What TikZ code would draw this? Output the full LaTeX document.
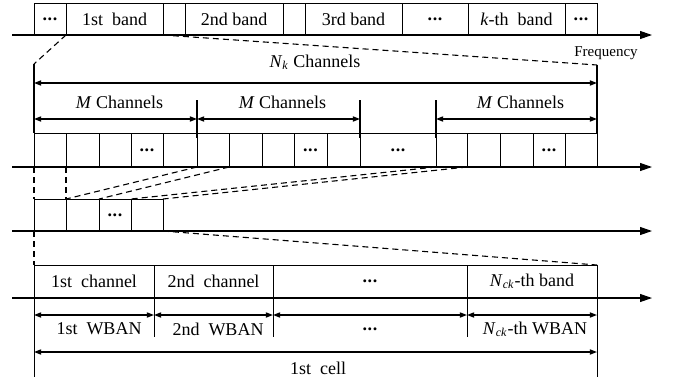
\documentclass[tikz,border=0pt]{standalone}
\usepackage{fontspec}
\setmainfont{Liberation Serif}
\usetikzlibrary{arrows.meta, calc}

\newcommand{\Nck}{\textit{N}\textsubscript{\textit{ck}}}
\newcommand{\hdots}{\textbf{.\kern0.3pt.\kern0.3pt.}}

\tikzset{
    axis/.style={line width=0.55pt, -{Triangle[length=6pt, width=4pt]}},
    dim/.style={line width=0.6pt, {Triangle[length=3.6pt, width=2.6pt]}-{Triangle[length=3.6pt, width=2.6pt]}},
    cellline/.style={line width=0.5pt},
    sepline/.style={line width=1pt},
    guide/.style={line width=0.55pt, dash pattern=on 3pt off 2pt},
    lbl/.style={font=\fontsize{9}{10}\selectfont, inner sep=0pt}
}

\begin{document}
\begin{tikzpicture}[x=0.5pt, y=-0.5pt]
                    \useasboundingbox (0, 0) rectangle (674, 381);

                    \draw[axis] (12, 35) -- (652, 35);
                    \draw[axis] (12, 167) -- (652, 167);
                    \draw[axis] (12, 231) -- (652, 231);
                    \draw[axis] (12, 298) -- (652, 298);

                    \draw[cellline] (34, 3) rectangle (597, 35);
                    \foreach \x in {66, 163, 185, 283, 305, 402, 468, 565} {
                        \draw[cellline] (\x, 3) -- (\x, 35);
                    }
                    \foreach \x/\t/\n in {50/\hdots/bd0, 114.5/1st~~band/bd1, 234/2nd band/bd2, 353.5/3rd band/bd3, 435/\hdots/bdx, 516.5/\textit{k}-th~~band/bdk, 581/\hdots/bdy} {
                        \node[lbl] (\n) at (\x, 19) {\t};
                    }
                    \node[lbl, font=\fontsize{7.5}{9}\selectfont] (freq) at (606, 53) {Frequency};

                    \draw[guide] (66, 35) -- (34, 64);
                    \draw[guide] (163, 35) -- (597, 65);
                    \draw[sepline] (34, 64) -- (34, 133);
                    \draw[sepline] (597, 65) -- (597, 133);

                    \draw[dim] (34, 83) -- (597, 83);
                    \node[lbl] (nk) at (315, 62) {\textit{N}\textsubscript{\textit{k}} Channels};

                    \foreach \a/\b/\n in {34/197/m1, 197/360/m2, 436/597/m3} {
                        \draw[dim] (\a, 119) -- (\b, 119);
                        \node[lbl] (\n) at ({(\a + \b)/2 + 4}, 102) {\textit{M} Channels};
                    }
                    \foreach \x in {197, 360, 436} {
                        \draw[sepline] (\x, 100) -- (\x, 138);
                    }

                    \draw[cellline] (34, 133) rectangle (597, 167);
                    \foreach \x in {66, 99, 131, 163, 197, 229, 262, 294, 327, 360, 436, 467, 500, 533, 565} {
                        \draw[cellline] (\x, 133) -- (\x, 167);
                    }
                    \foreach \x/\n in {147/c1, 310.5/c2, 398/c3, 549/c4} {
                        \node[lbl] (\n) at (\x, 150) {\hdots};
                    }

                    \draw[guide] (34, 167) -- (34, 199) (66, 167) -- (66, 199);
                    \draw[guide] (197, 167) -- (66, 199) (229, 167) -- (99, 199);
                    \draw[guide] (436, 167) -- (131, 199) (467, 167) -- (163, 199);

                    \draw[cellline] (34, 199) rectangle (163, 231);
                    \foreach \x in {66, 99, 131} {
                        \draw[cellline] (\x, 199) -- (\x, 231);
                    }
                    \node[lbl] (s1) at (115, 215) {\hdots};

                    \draw[guide] (34, 231) -- (34, 265);
                    \draw[guide] (163, 231) -- (597, 265);

                    \draw[cellline] (34, 265) rectangle (597, 298);
                    \foreach \x in {154, 273, 467} {
                        \draw[cellline] (\x, 265) -- (\x, 298);
                        \draw[cellline] (\x, 298) -- (\x, 337);
                    }
                    \draw[cellline] (34, 298) -- (34, 377) (597, 298) -- (597, 377);
                    \foreach \x/\t/\n in {94/1st~~channel/ch1, 213.5/2nd~~channel/ch2, 370/\hdots/chx, 532/\Nck-th band/chn} {
                        \node[lbl] (\n) at (\x, 281) {\t};
                    }

                    \foreach \a/\b in {34/154, 154/273, 273/467, 467/597} {
                        \draw[dim] (\a, 315) -- (\b, 315);
                    }
                    \foreach \x/\t/\n in {99/1st~~WBAN/w1, 218/2nd~~WBAN/w2, 370/\hdots/wx, 535/\Nck-th WBAN/wn} {
                        \node[lbl] (\n) at (\x, 329) {\t};
                    }

                    \draw[dim] (34, 352) -- (597, 352);
                    \node[lbl] (cell1) at (318, 368) {1st~~cell};
                \end{tikzpicture}
\end{document}
